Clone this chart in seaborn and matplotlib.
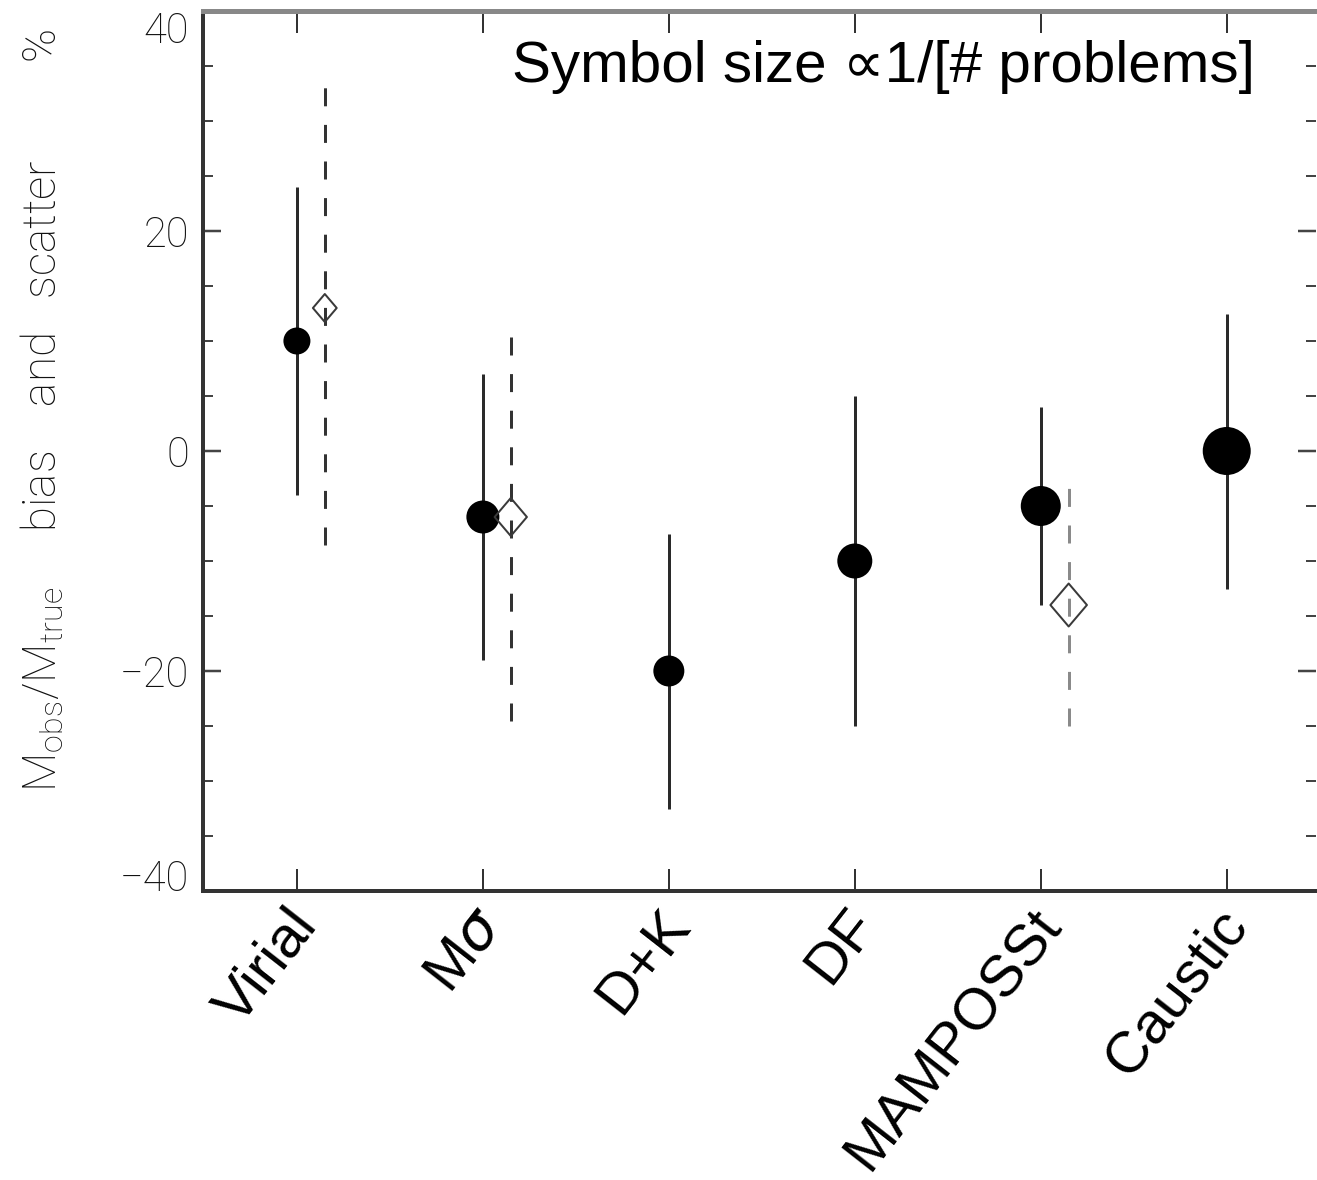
import numpy as np
import pandas as pd
import matplotlib
matplotlib.use("Agg")
import matplotlib.pyplot as plt
from matplotlib.path import Path
from matplotlib.ticker import MultipleLocator
import seaborn as sns

# Mass-estimator bias (symbol) and scatter (bar) in per cent
methods = ["Virial", r"M$\sigma$", "D+K", "DF", "MAMPOSSt", "Caustic"]
bias = [10, -6, -20, -10, -5, 0]
scatter_low = [-4, -19, -32.5, -25, -14, -12.5]
scatter_high = [24, 7, -7.5, 5, 4, 12.5]

# Alternative runs (open diamonds, dashed ranges)
alt_methods = ["Virial", r"M$\sigma$", "MAMPOSSt"]
alt_bias = [13, -6, -14]
alt_low = [-8.5, -24.5, -25]
alt_high = [33.5, 11.5, -3]

y_ticks = [-40, -20, 0, 20, 40]

# symbol diameters in pixels (size goes as 1/[# problems])
circle_px = [27, 33, 31, 35, 40, 48]
diamond_px = [28, 38, 43]

DPI = 100
PX = 72.0 / DPI  # points per pixel

sns.set_theme(style="ticks")
plt.rcParams["font.family"] = ["Liberation Sans", "DejaVu Sans"]

fig = plt.figure(figsize=(13.17, 11.8), dpi=DPI)
ax = fig.add_axes([203 / 1317, 1 - 891 / 1180, (1316 - 203) / 1317, 880 / 1180])

pos = np.arange(1, len(methods) + 1)
alt_offset = 0.15
alt_pos = np.array([pos[methods.index(m)] for m in alt_methods]) + alt_offset

main = pd.DataFrame({"x": pos, "bias": bias, "lo": scatter_low, "hi": scatter_high,
                     "area": [(d * PX) ** 2 for d in circle_px]})
alt = pd.DataFrame({"x": alt_pos, "bias": alt_bias, "lo": alt_low, "hi": alt_high,
                    "area": [(d * PX) ** 2 for d in diamond_px]})

# scatter ranges
ax.vlines(main["x"], main["lo"], main["hi"], colors="#2a2a2a", lw=3 * PX, zorder=2)
alt_colors = ["#333333", "#333333", "#8a8a8a"]
for (_, r), c in zip(alt.iterrows(), alt_colors):
    ax.vlines(r["x"], r["lo"], r["hi"], colors=c, lw=3 * PX,
              linestyles=(0, (6, 6.2)), zorder=2)

# bias symbols
sns.scatterplot(data=main, x="x", y="bias", s=main["area"], marker="o",
                color="black", edgecolor="black", linewidth=0, ax=ax, zorder=3,
                legend=False)
diamond = Path([(0, 1), (0.85, 0), (0, -1), (-0.85, 0), (0, 1)],
               [Path.MOVETO, Path.LINETO, Path.LINETO, Path.LINETO, Path.CLOSEPOLY])
sns.scatterplot(data=alt, x="x", y="bias", s=alt["area"], marker=diamond,
                facecolor="none", edgecolor="#3a3a3a", linewidth=2 * PX, ax=ax,
                zorder=3, legend=False)

ax.set_xlim(0.495, 6.48)
ax.set_ylim(-40, 40)
ax.set_xlabel("")
ax.set_ylabel("")

# axes frame
for side in ["left", "bottom"]:
    ax.spines[side].set_color("#333333")
    ax.spines[side].set_linewidth(4 * PX)
ax.spines["top"].set_color("#888888")
ax.spines["top"].set_linewidth(5 * PX)
ax.spines["right"].set_visible(False)

ax.set_xticks(pos)
ax.set_xticklabels([])
ax.tick_params(axis="x", which="both", direction="in", top=True, bottom=True,
               length=22 * PX, width=2 * PX, color="#333333")
ax.set_yticks(y_ticks)
ax.set_yticklabels([f"{v:d}".replace("-", "\u2212") for v in y_ticks])
ax.yaxis.set_minor_locator(MultipleLocator(5))
ax.tick_params(axis="y", which="major", direction="in", left=True, right=True,
               length=18 * PX, width=2.5 * PX, color="#444444", pad=10,
               labelsize=30, labelcolor="#111111")
ax.tick_params(axis="y", which="minor", direction="in", left=True, right=True,
               length=10 * PX, width=2 * PX, color="#444444")
major_ticks = ax.yaxis.get_major_ticks()
for t in major_ticks:
    t.label1.set_family(["Roboto", "DejaVu Sans"])
    t.label1.set_fontweight("light")
# keep the end labels inside the frame height
major_ticks[0].label1.set_verticalalignment("baseline")
major_ticks[-1].label1.set_verticalalignment("top")

# rotated category names below the axis
for x, name in zip(pos, methods):
    ax.annotate(name, xy=(x, 0), xycoords=("data", "axes fraction"),
                xytext=(-8, -6), textcoords="offset points",
                rotation=52, rotation_mode="anchor", ha="right", va="top",
                fontsize=42, color="black")

ax.text(0.945, 0.919, "Symbol size \u221d1/[# problems]", transform=ax.transAxes,
        ha="right", va="baseline", fontsize=42, color="black",
        family=["Liberation Sans", "DejaVu Sans"])

fig.text(42 / 1317, 1 - 792 / 1180,
         r"$\mathregular{M_{obs}/M_{true}}$     bias    and   scatter         %",
         rotation=90, ha="center", va="bottom", fontsize=33, color="#111111",
         family=["Roboto", "DejaVu Sans"], fontweight="light")

fig.savefig("out.png", dpi=DPI)
